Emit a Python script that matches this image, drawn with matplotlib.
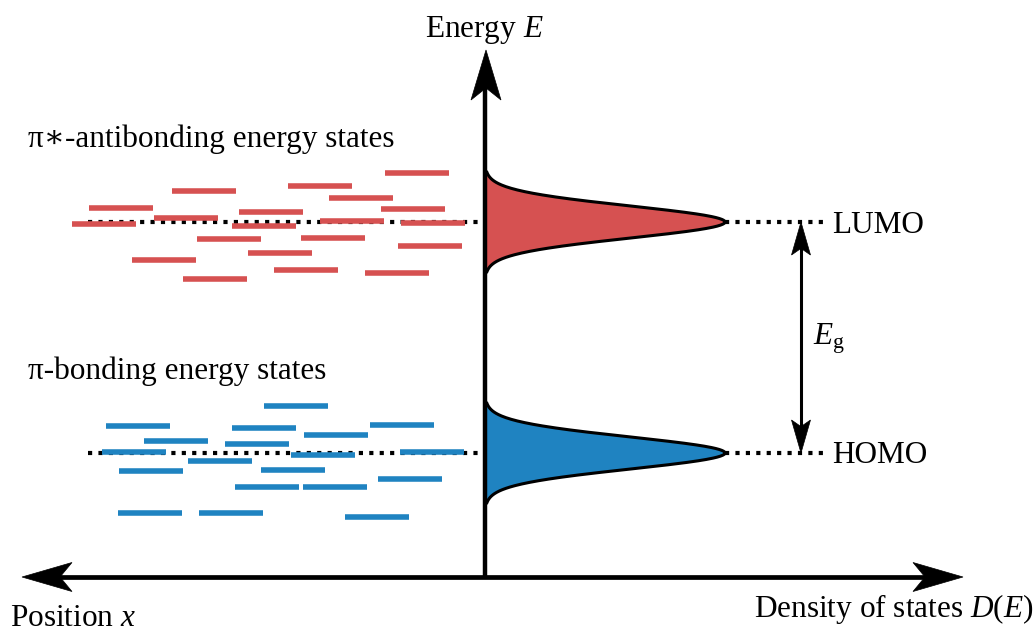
import numpy as np
import matplotlib
matplotlib.use("Agg")
import matplotlib.pyplot as plt
from matplotlib.patches import Polygon

plt.rcParams['font.family'] = ['Liberation Serif', 'DejaVu Serif']
plt.rcParams['mathtext.fontset'] = 'custom'
plt.rcParams['mathtext.rm'] = 'Liberation Serif'
plt.rcParams['mathtext.it'] = 'Liberation Serif:italic'

# energy levels and density of states peaks
E_lumo = 3.55
E_homo = 1.24
dos_peak = 2.40
dos_sigma = 0.16

# localized states: (position, energy)
pi_star_x = [-0.68, -2.81, -1.65, -1.24, -3.64, -2.14, -0.72, -2.99, -3.81, -2.21,
             -1.33, -0.52, -2.56, -1.52, -0.55, -2.05, -3.21, -1.79, -0.88, -2.70]
pi_star_E = [4.04, 3.86, 3.91, 3.79, 3.69, 3.65, 3.68, 3.59, 3.53, 3.51,
             3.56, 3.54, 3.38, 3.39, 3.31, 3.24, 3.17, 3.07, 3.04, 2.98]
pi_x = [-1.89, -3.47, -2.21, -0.83, -1.49, -3.09, -2.28, -3.51, -1.62, -0.53,
        -2.65, -3.34, -1.92, -0.75, -2.18, -1.50, -3.35, -2.54, -1.08]
pi_E = [1.71, 1.51, 1.49, 1.52, 1.42, 1.36, 1.33, 1.25, 1.22, 1.25,
        1.16, 1.06, 1.07, 0.98, 0.90, 0.90, 0.64, 0.64, 0.60]

red = '#d65151'
blue = '#1f83c1'
bar_len = 0.64


def arrow_head(ax, tip, direction, length, half_width, notch=0.76):
    # filled arrowhead with a concave back
    d = np.array(direction, float)
    n = np.array([-d[1], d[0]])
    tip = np.array(tip, float)
    back = tip - d * length
    pts = [tip, back + n * half_width, tip - d * length * notch, back - n * half_width]
    ax.add_patch(Polygon(pts, closed=True, fc='k', ec='k', lw=0.5, zorder=6))


fig = plt.figure(figsize=(10.35, 6.33), dpi=100)
ax = fig.add_axes([0, 0, 1, 1])
ax.set_xlim(-4.85, 5.50)
ax.set_ylim(-0.56, 5.77)
ax.axis('off')

# dotted reference levels
dots = (0, (1, 1.5))
for E0 in (E_lumo, E_homo):
    ax.plot([-3.97, 0], [E0, E0], color='k', lw=3.0, ls=dots, zorder=1)
    ax.plot([dos_peak, 3.43], [E0, E0], color='k', lw=3.0, ls=dots, zorder=1)

# localized states
ax.hlines(pi_star_E, np.array(pi_star_x) - bar_len / 2, np.array(pi_star_x) + bar_len / 2,
          color=red, lw=4, zorder=2)
ax.hlines(pi_E, np.array(pi_x) - bar_len / 2, np.array(pi_x) + bar_len / 2,
          color=blue, lw=4, zorder=2)

# gaussian density of states
for E0, c in ((E_lumo, red), (E_homo, blue)):
    E = np.linspace(E0 - 3.1 * dos_sigma, E0 + 3.1 * dos_sigma, 300)
    D = dos_peak * np.exp(-(E - E0) ** 2 / (2 * dos_sigma ** 2))
    ax.fill_betweenx(E, 0, D, color=c, lw=0, zorder=3)
    ax.plot(D, E, color='k', lw=2.2, zorder=4)

# axes with arrows
ax.plot([0, 0], [-0.02, 4.90], color='k', lw=3.2, zorder=5, solid_capstyle='butt')
arrow_head(ax, (0.01, 5.27), (0, 1), 0.50, 0.15)
ax.plot([-4.27, 4.42], [0, 0], color='k', lw=3.4, zorder=5, solid_capstyle='butt')
arrow_head(ax, (-4.63, 0), (-1, 0), 0.50, 0.145)
arrow_head(ax, (4.78, 0), (1, 0), 0.50, 0.145)

# band gap arrow
x_gap = 3.16
ax.plot([x_gap, x_gap], [E_homo + 0.25, E_lumo - 0.25], color='k', lw=2.2, zorder=5)
arrow_head(ax, (x_gap, E_lumo), (0, 1), 0.33, 0.095, notch=0.8)
arrow_head(ax, (x_gap, E_homo), (0, -1), 0.33, 0.095, notch=0.8)

fs = 22.5
ax.text(-0.01, 5.40, 'Energy $E$', fontsize=fs, ha='center', va='baseline')
ax.text(-4.57, 4.30, 'π∗-antibonding energy states', fontsize=fs, ha='left', va='baseline')
ax.text(-4.57, 1.98, 'π-bonding energy states', fontsize=fs, ha='left', va='baseline')
ax.text(3.47, 3.44, 'LUMO', fontsize=fs, ha='left', va='baseline')
ax.text(3.47, 1.14, 'HOMO', fontsize=fs, ha='left', va='baseline')
ax.text(3.28, 2.32, r'$E_{\mathrm{g}}$', fontsize=fs, ha='left', va='baseline')
ax.text(-4.75, -0.49, 'Position $x$', fontsize=fs, ha='left', va='baseline')
ax.text(4.09, -0.40, 'Density of states $D(E)$', fontsize=fs, ha='center', va='baseline')

fig.savefig('out.png', dpi=100)
